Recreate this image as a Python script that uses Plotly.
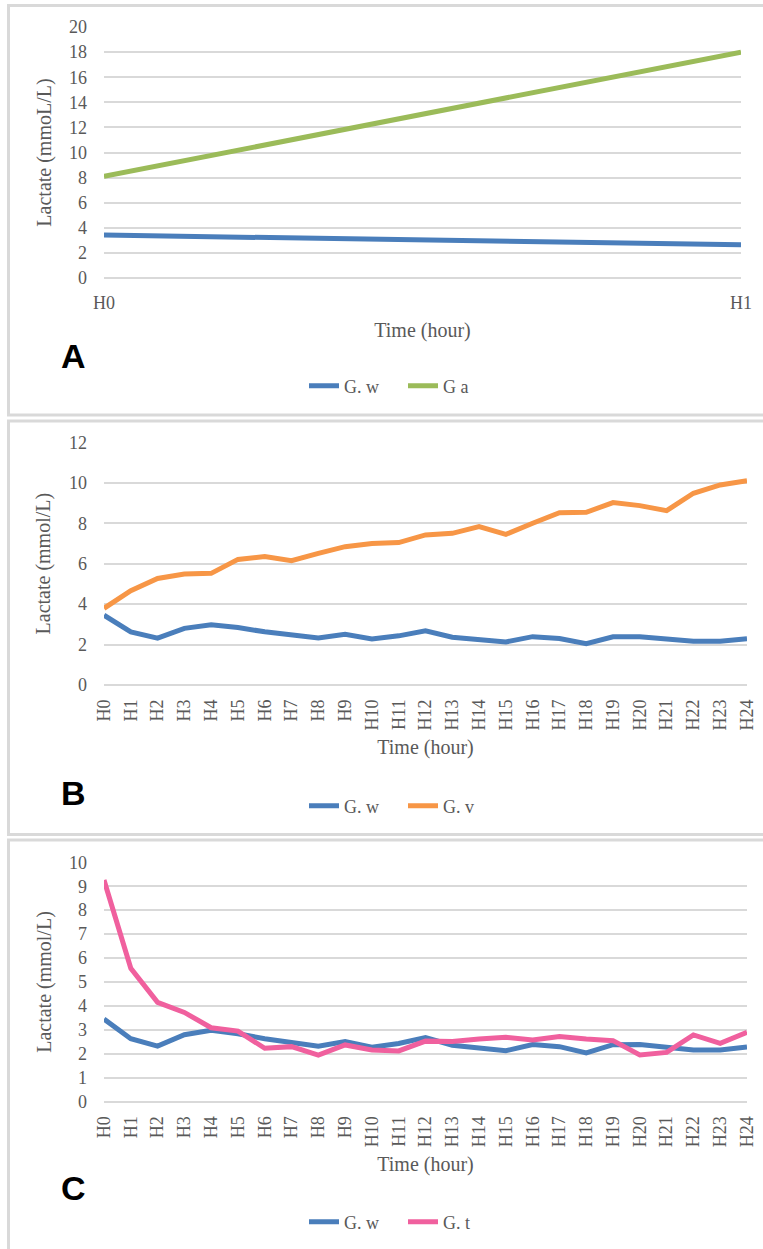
import plotly.graph_objects as go

W, H = 763, 1249

# ---------------- data ----------------
hours_a = ["H0", "H1"]
gw_a = [3.42, 2.65]
ga_a = [8.1, 18.0]

hours = ["H%d" % i for i in range(25)]
gw = [3.45, 2.63, 2.32, 2.80, 2.98, 2.84, 2.63, 2.50, 2.32, 2.51, 2.28, 2.43, 2.68,
      2.36, 2.27, 2.13, 2.39, 2.30, 2.04, 2.38, 2.39, 2.25, 2.16, 2.16, 2.29]
gv = [3.79, 4.66, 5.27, 5.49, 5.52, 6.21, 6.35, 6.15, 6.51, 6.84, 7.00, 7.04, 7.42,
      7.50, 7.83, 7.45, 8.00, 8.52, 8.54, 9.02, 8.87, 8.62, 9.48, 9.89, 10.10]
gt = [9.26, 5.57, 4.15, 3.73, 3.09, 2.95, 2.23, 2.30, 1.95, 2.37, 2.16, 2.12, 2.53,
      2.51, 2.62, 2.69, 2.58, 2.72, 2.62, 2.55, 1.95, 2.06, 2.79, 2.44, 2.90]

BLUE = "#4a7ebb"
GREEN = "#9bbb59"
ORANGE = "#f79646"
PINK = "#f0609e"
GRID = "#d9d9d9"
TXT = "#595959"
FONT = "Liberation Serif"

def px(x):
    return x / W

def py(y):
    return 1 - y / H

fig = go.Figure()

# Panel A
fig.add_trace(go.Scatter(x=hours_a, y=gw_a, name="G. w", mode="lines",
                         line=dict(color=BLUE, width=5), xaxis="x", yaxis="y", legend="legend"))
fig.add_trace(go.Scatter(x=hours_a, y=ga_a, name="G a", mode="lines",
                         line=dict(color=GREEN, width=5), xaxis="x", yaxis="y", legend="legend"))
# Panel B
fig.add_trace(go.Scatter(x=hours, y=gw, name="G. w", mode="lines",
                         line=dict(color=BLUE, width=5), xaxis="x2", yaxis="y2", legend="legend2"))
fig.add_trace(go.Scatter(x=hours, y=gv, name="G. v", mode="lines",
                         line=dict(color=ORANGE, width=5), xaxis="x2", yaxis="y2", legend="legend2"))
# Panel C
fig.add_trace(go.Scatter(x=hours, y=gw, name="G. w", mode="lines",
                         line=dict(color=BLUE, width=5), xaxis="x3", yaxis="y3", legend="legend3"))
fig.add_trace(go.Scatter(x=hours, y=gt, name="G. t", mode="lines",
                         line=dict(color=PINK, width=5), xaxis="x3", yaxis="y3", legend="legend3"))

tickfont = dict(family=FONT, size=18, color=TXT)
titlefont = dict(family=FONT, size=20, color=TXT)

def xaxis(domain, anchor, ncat, angle, lstand, tstand):
    return dict(domain=domain, anchor=anchor, type="category", range=[0, ncat - 1],
                showgrid=False, zeroline=False, showline=False, ticks="",
                tickangle=angle, tickfont=tickfont, automargin=False,
                ticklabelstandoff=lstand,
                title=dict(text="Time (hour)", font=titlefont, standoff=tstand))

def yaxis(domain, anchor, rng, dtick, title):
    return dict(domain=domain, anchor=anchor, range=rng, dtick=dtick, showgrid=True,
                gridcolor=GRID, gridwidth=2, zeroline=True, zerolinecolor=GRID,
                zerolinewidth=2, showline=False, ticks="", tickfont=tickfont,
                automargin=False, ticklabelstandoff=16,
                title=dict(text=title, font=titlefont, standoff=12))

def legend(x, y):
    return dict(orientation="h", x=x, y=y, xanchor="center", yanchor="middle",
                font=dict(family=FONT, size=18, color=TXT), bgcolor="rgba(0,0,0,0)",
                itemwidth=30, tracegroupgap=0, entrywidth=54)

fig.update_layout(
    width=W, height=H, margin=dict(l=0, r=0, t=0, b=0, autoexpand=False),
    paper_bgcolor="white", plot_bgcolor="white",
    showlegend=True,
    xaxis=xaxis([px(104), px(741)], "y", 2, 0, 12, 10),
    yaxis=yaxis([py(278), py(27)], "x", [0, 20], 2, "Lactate (mmoL/L)"),
    xaxis2=xaxis([px(104), px(747)], "y2", 25, -90, 10, 10),
    yaxis2=yaxis([py(685), py(442.3)], "x2", [0, 12], 2, "Lactate (mmol/L)"),
    xaxis3=xaxis([px(104), px(747)], "y3", 25, -90, 10, 10),
    yaxis3=yaxis([py(1101.7), py(862.3)], "x3", [0, 10], 1, "Lactate (mmol/L)"),
    legend=legend(px(403), py(386)),
    legend2=legend(px(403), py(806)),
    legend3=legend(px(403), py(1222)),
)

# panel borders
for (y0, y1) in [(5.5, 415), (421, 834.5), (840, 1262)]:
    fig.add_shape(type="rect", xref="paper", yref="paper",
                  x0=px(8.5), x1=px(775), y0=py(y1), y1=py(y0),
                  line=dict(color=GRID, width=3), fillcolor="rgba(0,0,0,0)", layer="below")

# panel letters
for letter, yc in [("A", 356), ("B", 793), ("C", 1188)]:
    fig.add_annotation(text=letter, xref="paper", yref="paper", x=px(73), y=py(yc),
                       xanchor="center", yanchor="middle", showarrow=False,
                       font=dict(family="Liberation Sans", size=34, color="black", weight="bold"))

fig.write_html("out.html", config={"displayModeBar": False},
               post_script="document.body.style.margin='0';document.body.style.overflow='hidden';")
